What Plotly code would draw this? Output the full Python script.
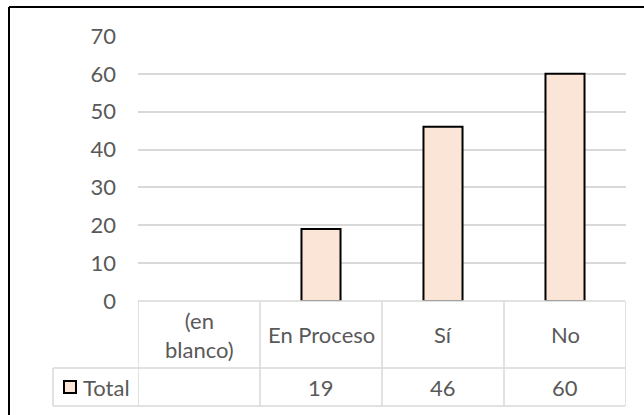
import plotly.graph_objects as go

# Chart data
categories = ["(en blanco)", "En Proceso", "Sí", "No"]
header_labels = ["(en<br>blanco)", "En Proceso", "Sí", "No"]
totals = [None, 19, 46, 60]
series_name = "Total"
y_ticks = [0, 10, 20, 30, 40, 50, 60, 70]

W, H = 644, 415
FONT = "Lato"
FS = 22
TXT = "#595959"
GRID = "#d9d9d9"
FILL = "#FBE5D6"

def px_x(p):
    return p / W

def px_y(p):
    return (H - p) / H

fig = go.Figure()
fig.add_trace(go.Bar(
    x=categories, y=totals, name=series_name,
    marker=dict(color=FILL, line=dict(color="black", width=2)),
    showlegend=False,
))

x_left, x_right = 138, 626
y_zero, y_top = 301, 36
row1, row2 = 368, 406

fig.update_layout(
    width=W, height=H,
    margin=dict(l=0, r=0, t=0, b=0, pad=0, autoexpand=False),
    showlegend=False,
    paper_bgcolor="white", plot_bgcolor="white",
    bargap=0.68,
    font=dict(family=FONT, size=FS, color=TXT),
    xaxis=dict(domain=[px_x(x_left), px_x(x_right)], range=[-0.5, 3.5],
               showticklabels=False, showgrid=False, zeroline=False,
               automargin=False, fixedrange=True),
    yaxis=dict(domain=[px_y(y_zero), px_y(y_top)], range=[0, 70],
               tickvals=y_ticks, showgrid=True, gridcolor=GRID, gridwidth=1.5,
               zeroline=False, showline=False, ticks="", automargin=False,
               ticklabelstandoff=21, fixedrange=True,
               tickfont=dict(family=FONT, size=FS, color=TXT)),
)

shapes = []
line = dict(color=GRID, width=1.5)
# data table grid
shapes.append(dict(type="line", xref="paper", yref="paper",
                   x0=px_x(x_left), x1=px_x(x_right - 1), y0=px_y(y_zero), y1=px_y(y_zero), line=line))
for yy in (row1, row2):
    shapes.append(dict(type="line", xref="paper", yref="paper",
                       x0=px_x(53), x1=px_x(x_right - 1), y0=px_y(yy), y1=px_y(yy), line=line))
for i in range(len(categories) + 1):
    shapes.append(dict(type="line", xref="x", yref="paper",
                       x0=i - 0.5, x1=i - 0.5, y0=px_y(y_zero), y1=px_y(row2), line=line))
shapes.append(dict(type="line", xref="paper", yref="paper",
                   x0=px_x(53), x1=px_x(53), y0=px_y(row1), y1=px_y(row2), line=line))
# legend key
shapes.append(dict(type="rect", xref="paper", yref="paper",
                   x0=px_x(64), x1=px_x(76), y0=px_y(393), y1=px_y(381),
                   fillcolor=FILL, line=dict(color="black", width=2)))
# chart frame (left and top edges)
shapes.append(dict(type="line", xref="paper", yref="paper",
                   x0=px_x(9), x1=px_x(9), y0=px_y(7), y1=0,
                   line=dict(color="black", width=2)))
shapes.append(dict(type="line", xref="paper", yref="paper",
                   x0=px_x(9), x1=1, y0=px_y(7), y1=px_y(7),
                   line=dict(color="black", width=2)))
fig.update_layout(shapes=shapes)

ann = []
for i, (lab, v) in enumerate(zip(header_labels, totals)):
    ann.append(dict(x=i, y=px_y((y_zero + row1) / 2), xref="x", yref="paper",
                    text=lab, showarrow=False, xanchor="center", yanchor="middle",
                    font=dict(family=FONT, size=FS, color=TXT)))
    ann.append(dict(x=i, y=px_y((row1 + row2) / 2), xref="x", yref="paper",
                    text="" if v is None else str(v), showarrow=False,
                    xanchor="center", yanchor="middle",
                    font=dict(family=FONT, size=FS, color=TXT)))
ann.append(dict(x=px_x(81), y=px_y((row1 + row2) / 2), xref="paper", yref="paper",
                text=series_name, showarrow=False, xanchor="left", yanchor="middle",
                font=dict(family=FONT, size=FS, color=TXT)))
fig.update_layout(annotations=ann)

fig.write_html("out.html")
